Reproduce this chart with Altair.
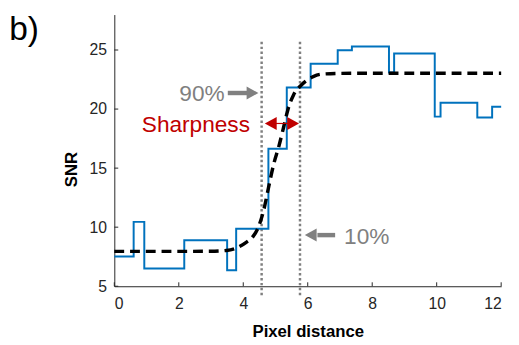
import altair as alt
import pandas as pd

# Blue measured SNR profile (step-after)
step_x = [0, 0.6, 0.93, 2.17, 3.5, 3.78, 4.78, 5.35, 6.09, 6.93, 7.37, 8.52, 8.68, 9.94, 10.12, 11.26, 11.72, 12]
step_y = [7.52, 10.45, 6.5, 8.9, 6.36, 9.86, 16.64, 21.83, 23.83, 24.97, 25.3, 23.1, 24.7, 19.36, 20.53, 19.28, 20.19, 20.19]

# Black dashed fitted edge curve
fit_x = [0, 1, 2, 3, 3.48, 3.8, 4.08, 4.3, 4.44, 4.64, 4.79, 4.95, 5.1, 5.25, 5.4, 5.56, 5.81, 6.17, 6.42, 7, 8, 9, 10, 11, 12]
fit_y = [7.95, 7.95, 7.95, 7.96, 8.03, 8.25, 8.7, 9.2, 9.83, 11.5, 13.44, 15.4, 16.8, 18.44, 20.1, 21.2, 22.06, 22.75, 22.95, 23.02, 23.03, 23.03, 23.03, 23.03, 23.03]

# Vertical dotted markers (90% / 10% positions)
marker_x = [4.57, 5.76]
marker_top = 25.7
marker_bottom = 4.17

x_ticks = [0, 2, 4, 6, 8, 10, 12]
y_ticks = [5, 10, 15, 20, 25]

FONT = "Liberation Sans"
GRAY = "#808080"
RED = "#C00000"
AX = "#262626"

W, H = 393, 276
TICK = 4
xs = alt.Scale(domain=[0, 12], nice=False, zero=False)
ys = alt.Scale(domain=[5, 28], nice=False, zero=False)

step_df = pd.DataFrame({"x": step_x, "y": step_y})
fit_df = pd.DataFrame({"x": fit_x, "y": fit_y})
mark_df = pd.DataFrame({"x": marker_x, "y": [marker_top] * 2, "y2": [marker_bottom] * 2})

xaxis = alt.Axis(values=x_ticks, title="Pixel distance", labelFont=FONT, labelFontSize=16,
                 labelColor=AX, labelPadding=10, ticks=False, grid=False, domainColor=AX,
                 titleFont=FONT, titleFontSize=17, titleFontWeight="bold", titleColor="#000000",
                 titleY=51, titleBaseline="alphabetic")
yaxis = alt.Axis(values=y_ticks, title="SNR", labelFont=FONT, labelFontSize=16,
                 labelColor=AX, labelPadding=8, ticks=False, grid=False, domainColor=AX,
                 titleFont=FONT, titleFontSize=17, titleFontWeight="bold", titleColor="#000000",
                 titleX=-38, titleY=157, titleAngle=270, titleAlign="center",
                 titleBaseline="alphabetic")

markers = alt.Chart(mark_df).mark_rule(color=GRAY, strokeWidth=2.5, strokeDash=[2.5, 2.5]).encode(
    x=alt.X("x:Q", scale=xs, axis=xaxis),
    y=alt.Y("y:Q", scale=ys, axis=yaxis),
    y2="y2:Q",
)

# inward tick marks (MATLAB style)
xt = alt.Chart(pd.DataFrame({"v": x_ticks})).mark_rule(color=AX, strokeWidth=1).encode(
    x=alt.X("v:Q", scale=xs), y=alt.value(H), y2=alt.value(H - TICK)
)
yt = alt.Chart(pd.DataFrame({"v": y_ticks})).mark_rule(color=AX, strokeWidth=1).encode(
    y=alt.Y("v:Q", scale=ys), x=alt.value(0), x2=alt.value(TICK)
)

steps = alt.Chart(step_df).mark_line(color="#0072BD", strokeWidth=2, interpolate="step-after").encode(
    x=alt.X("x:Q", scale=xs), y=alt.Y("y:Q", scale=ys)
)

fit = alt.Chart(fit_df).mark_line(color="#000000", strokeWidth=3.5, strokeDash=[10, 6],
                                  interpolate="monotone").encode(
    x=alt.X("x:Q", scale=xs), y=alt.Y("y:Q", scale=ys)
)

# Annotations
texts_df = pd.DataFrame({
    "x": [2.72, 2.53, 7.83],
    "y": [21.29, 18.67, 9.17],
    "t": ["90%", "Sharpness", "10%"],
    "c": [GRAY, RED, GRAY],
})
texts = alt.Chart(texts_df).mark_text(font=FONT, fontSize=23, align="center", baseline="middle").encode(
    x=alt.X("x:Q", scale=xs), y=alt.Y("y:Q", scale=ys), text="t:N",
    color=alt.Color("c:N", scale=None),
)

shafts_df = pd.DataFrame({
    "x": [3.52, 6.3, 4.8],
    "x2": [4.2, 6.85, 5.6],
    "y": [21.36, 9.33, 18.78],
    "c": [GRAY, GRAY, RED],
    "w": [4.5, 4.5, 1.2],
})
shafts = alt.Chart(shafts_df).mark_rule().encode(
    x=alt.X("x:Q", scale=xs), x2="x2:Q", y=alt.Y("y:Q", scale=ys),
    color=alt.Color("c:N", scale=None),
    strokeWidth=alt.StrokeWidth("w:Q", scale=None),
)

right_heads = pd.DataFrame({"x": [4.47, 5.73], "y": [21.36, 18.78], "c": [GRAY, RED]})
left_heads = pd.DataFrame({"x": [5.91, 4.67], "y": [9.33, 18.78], "c": [GRAY, RED]})

rh = alt.Chart(right_heads).mark_point(shape="M0,0L-2,-1.1L-2,1.1Z", size=144, filled=True, opacity=1).encode(
    x=alt.X("x:Q", scale=xs), y=alt.Y("y:Q", scale=ys), color=alt.Color("c:N", scale=None)
)
lh = alt.Chart(left_heads).mark_point(shape="M0,0L2,-1.1L2,1.1Z", size=144, filled=True, opacity=1).encode(
    x=alt.X("x:Q", scale=xs), y=alt.Y("y:Q", scale=ys), color=alt.Color("c:N", scale=None)
)

label_df = pd.DataFrame({"x": [-3.26], "y": [25.81], "t": ["b)"]})
panel = alt.Chart(label_df).mark_text(font=FONT, fontSize=34, align="left", baseline="alphabetic",
                                      color="#000000").encode(
    x=alt.X("x:Q", scale=xs), y=alt.Y("y:Q", scale=ys), text="t:N"
)

chart = alt.layer(markers, xt, yt, steps, fit, shafts, rh, lh, texts, panel).properties(
    width=W, height=H,
    autosize=alt.AutoSizeParams(type="none"),
    padding={"left": 108, "top": 4, "right": 10, "bottom": 56},
    background="#ffffff",
).configure_view(stroke=None)

chart.save("out.html", embed_options={"renderer": "svg", "actions": False})
